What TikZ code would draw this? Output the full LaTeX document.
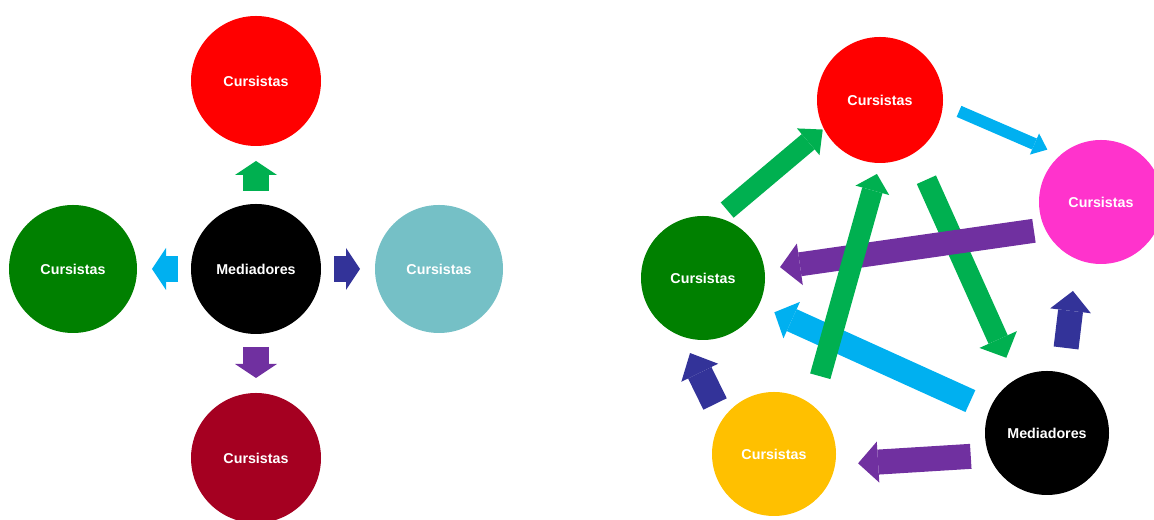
\documentclass[tikz,border=0pt]{standalone}
\usepackage{fontspec}
\setsansfont{Liberation Sans}
\usetikzlibrary{arrows.meta}
\definecolor{color_node_red}{HTML}{FF0000}
\definecolor{color_node_black}{HTML}{000000}
\definecolor{color_node_green}{HTML}{008000}
\definecolor{color_node_teal}{HTML}{75C0C6}
\definecolor{color_node_darkred}{HTML}{A50021}
\definecolor{color_node_magenta}{HTML}{FF33CC}
\definecolor{color_node_yellow}{HTML}{FFC000}
\definecolor{color_arrow_green}{HTML}{00B050}
\definecolor{color_arrow_cyan}{HTML}{00B0F0}
\definecolor{color_arrow_navy}{HTML}{333399}
\definecolor{color_arrow_purple}{HTML}{7030A0}
\def\nodefontsize{\fontsize{10.7}{12}\selectfont}
\def\bigr{97.5pt}
\def\smallr{93pt}

\begin{document}
\begin{tikzpicture}[x=0.75pt, y=0.75pt,
    circnode/.style={circle, fill=#1, minimum size=\smallr, inner sep=0pt, outer sep=0pt,
        text=white, font=\sffamily\bfseries\nodefontsize},
    blockarrow/.style n args={4}{color=#1, line width=#2,
        -{Triangle[width=#3, length=#4, line width=0pt]}}]
    \useasboundingbox (0,0) rectangle (1154,520);
    \clip (0,0) rectangle (1154,520);
    % left: mediators in the middle
    \node[circnode=color_node_black, minimum size=\bigr] (lmed) at (256,251) {Mediadores};
    \node[circnode=color_node_red, minimum size=\bigr] (lred) at (256,439) {Cursistas};
    \node[circnode=color_node_green, minimum size=96pt] (lgreen) at (73,251) {Cursistas};
    \node[circnode=color_node_teal, minimum size=96pt] (lteal) at (439,251) {Cursistas};
    \node[circnode=color_node_darkred, minimum size=\bigr] (ldred) at (256,62) {Cursistas};
    \foreach \target/\col in {lred/color_arrow_green, ldred/color_arrow_purple,
            lgreen/color_arrow_cyan, lteal/color_arrow_navy}
        \draw[blockarrow={\col}{19.5pt}{31.5pt}{10.5pt}, shorten <=9.75pt, shorten >=11.25pt]
            (lmed) -- (\target);
    % right: everyone talks to everyone
    \node[circnode=color_node_red, minimum size=94.5pt] (rred) at (880,420) {Cursistas};
    \node[circnode=color_node_magenta] (rmag) at (1101,318) {Cursistas};
    \node[circnode=color_node_green] (rgreen) at (703,242) {Cursistas};
    \node[circnode=color_node_yellow] (ryel) at (774,66) {Cursistas};
    \node[circnode=color_node_black] (rblack) at (1047,87) {Mediadores};
    \draw[blockarrow={color_arrow_green}{15.75pt}{30.75pt}{15pt}, shorten <=22.1pt, shorten >=17.7pt]
        (rred.-57.4) -- (rblack.120.3);
    \draw[blockarrow={color_arrow_purple}{18pt}{31.5pt}{15pt}, shorten <=8.6pt, shorten >=11.85pt]
        (rmag.206.2) -- (rgreen.8.2);
    \draw[blockarrow={color_arrow_cyan}{18pt}{30pt}{14.25pt}, shorten <=15.75pt, shorten >=12.9pt]
        (rblack.158.9) -- (rgreen.-26.8);
    \draw[blockarrow={color_arrow_green}{15.75pt}{26.25pt}{12.75pt}, shorten <=22.5pt, shorten >=8.55pt]
        (ryel.52.4) -- (rred.270);
    \draw[blockarrow={color_arrow_green}{15pt}{26.25pt}{14.25pt}, shorten <=9pt, shorten >=1.1pt]
        (rgreen.76.3) -- (rred.207.5);
    \draw[blockarrow={color_arrow_cyan}{9pt}{17.25pt}{10.5pt}, shorten <=13.2pt, shorten >=10.6pt]
        (rred.-4.6) -- (rmag.131.5);
    \draw[blockarrow={color_arrow_navy}{18.75pt}{30.75pt}{15pt}, shorten <=19pt, shorten >=24.1pt]
        (rblack.75.1) -- (rmag.247.1);
    \draw[blockarrow={color_arrow_navy}{19.5pt}{30.75pt}{16.5pt}, shorten <=12.8pt, shorten >=14pt]
        (ryel.146.1) -- (rgreen.250);
    \draw[blockarrow={color_arrow_purple}{18.75pt}{30.75pt}{15pt}, shorten <=13.8pt, shorten >=17.3pt]
        (rblack.201.7) -- (ryel.-10.6);
\end{tikzpicture}
\end{document}
